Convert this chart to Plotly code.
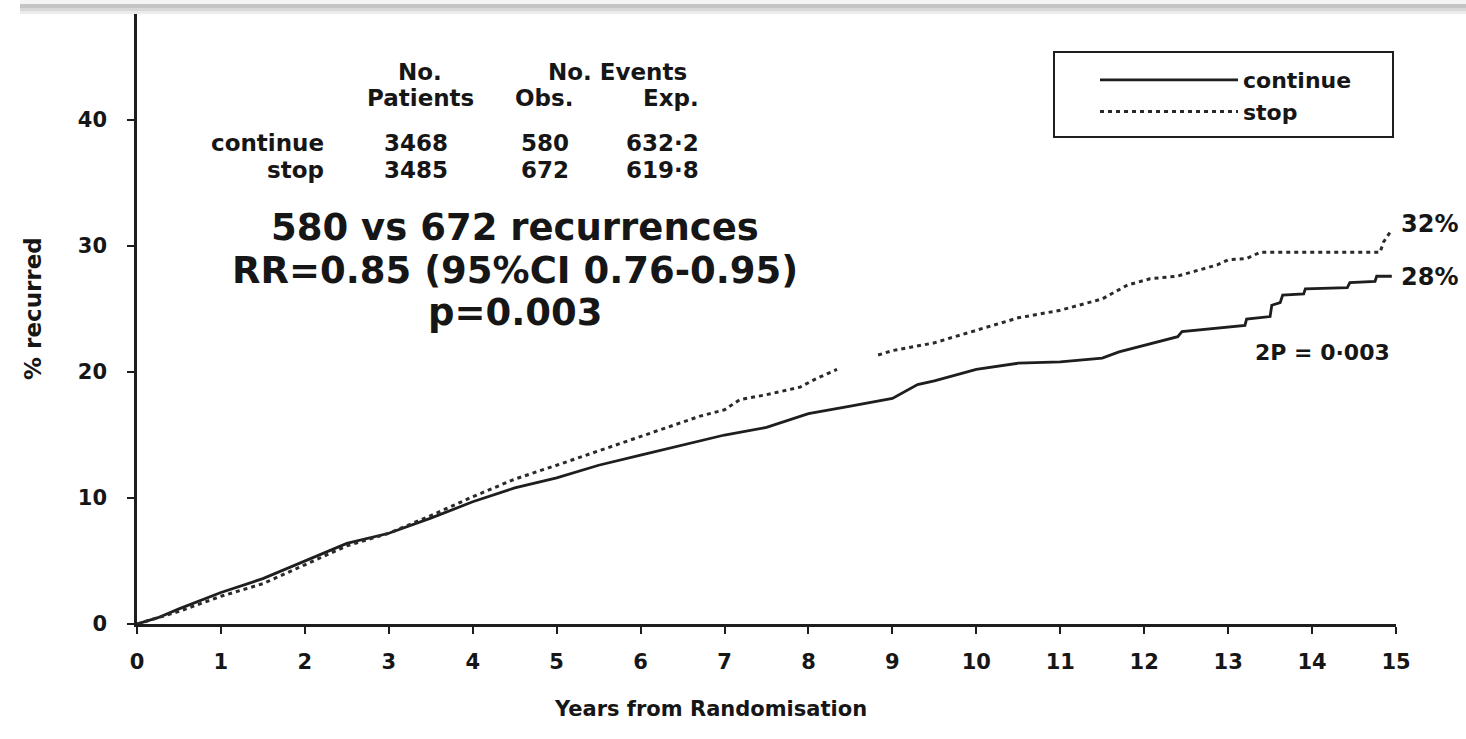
import plotly.graph_objects as go

# ---------------- data ----------------
years_continue = [0, 0.25, 0.5, 1.0, 1.5, 2.0, 2.5, 3.0, 3.5, 4.0, 4.5, 5.0, 5.5, 6.0, 6.5,
                  7.0, 7.5, 8.0, 8.5, 9.0, 9.3, 9.5, 10.0, 10.5, 11.0, 11.5, 11.7, 12.0,
                  12.4, 12.45, 12.9, 13.2, 13.22, 13.5, 13.52, 13.62, 13.65, 13.9, 13.92,
                  14.42, 14.45, 14.75, 14.77, 14.95]
pct_continue = [0, 0.5, 1.2, 2.5, 3.6, 5.0, 6.4, 7.2, 8.4, 9.7, 10.8, 11.6, 12.6, 13.4, 14.2,
                15.0, 15.6, 16.7, 17.3, 17.9, 19.0, 19.3, 20.2, 20.7, 20.8, 21.1, 21.6, 22.1,
                22.8, 23.2, 23.5, 23.7, 24.2, 24.4, 25.3, 25.5, 26.1, 26.2, 26.6,
                26.7, 27.1, 27.2, 27.6, 27.6]

years_stop = [0, 0.5, 1.0, 1.5, 2.0, 2.5, 3.0, 3.5, 4.0, 4.5, 5.0, 5.52, 6.0, 6.71, 7.0,
              7.18, 7.5, 7.9, 8.1, 8.34, None, 8.83, 9.0, 9.49, 10.0, 10.28, 10.5, 11.0,
              11.5, 11.8, 12.07, 12.39, 12.87, 13.0, 13.22, 13.38, 14.81, 14.85, 14.95]
pct_stop = [0, 1.0, 2.2, 3.2, 4.7, 6.2, 7.2, 8.6, 10.1, 11.5, 12.6, 13.8, 14.9, 16.5, 17.0,
            17.8, 18.2, 18.8, 19.5, 20.2, None, 21.35, 21.7, 22.3, 23.3, 23.9, 24.3, 24.9,
            25.8, 26.9, 27.4, 27.6, 28.5, 28.9, 29.0, 29.5, 29.5, 30.3, 31.3]

x_ticks = list(range(0, 16))
y_ticks = [0, 10, 20, 30, 40]

series_names = ["continue", "stop"]
table_patients = ["3468", "3485"]
table_obs = ["580", "672"]
table_exp = ["632·2", "619·8"]
summary_lines = ["580 vs 672 recurrences", "RR=0.85 (95%CI 0.76-0.95)", "p=0.003"]
end_labels = ["28%", "32%"]
p_label = "2P = 0·003"

# ---------------- layout geometry (pixels) ----------------
WIDTH, HEIGHT = 1466, 739
L, R, T, B = 137, 1396, 8, 624
PW, PH = R - L, B - T
Y_MAX = (B - T) / 12.6  # 12.6 px per percent


def px(x):
    return (x - L) / PW


def py(y):
    return (B - y) / PH


INK = "#161616"
FONT = "DejaVu Sans"

fig = go.Figure()
fig.add_trace(go.Scatter(x=years_continue, y=pct_continue, mode="lines", name=series_names[0],
                         line=dict(color="#1e1e1e", width=2.8), connectgaps=False))
fig.add_trace(go.Scatter(x=years_stop, y=pct_stop, mode="lines", name=series_names[1],
                         line=dict(color="#2a2a2a", width=3, dash="4px,4px"), connectgaps=False))

ann = []


def text(x, y, s, size=23, xanchor="center", yanchor="middle"):
    ann.append(dict(x=px(x), y=py(y), xref="paper", yref="paper", text=s, showarrow=False,
                    xanchor=xanchor, yanchor=yanchor,
                    font=dict(family=FONT, size=size, color=INK, weight="bold")))


# table header
text(420, 72, "No.")
text(420, 98, "Patients")
text(617, 72, "No. Events")
text(544, 98, "Obs.")
text(701, 98, "Exp.", xanchor="right")
rows_y = [143, 170]
for i in range(2):
    text(326, rows_y[i], series_names[i], xanchor="right")
    text(416, rows_y[i], table_patients[i])
    text(545, rows_y[i], table_obs[i])
    text(701, rows_y[i], table_exp[i], xanchor="right")

# summary block
for s, yy in zip(summary_lines, [228, 270, 312]):
    text(515, yy, s, size=37)

# end labels
text(1399, 277, end_labels[0], size=24, xanchor="left")
text(1399, 224, end_labels[1], size=24, xanchor="left")
text(1322, 352, p_label, size=22)

# axis titles
ann.append(dict(x=px(33), y=py(309), xref="paper", yref="paper", text="% recurred",
                showarrow=False, textangle=-90, xanchor="center", yanchor="middle",
                font=dict(family=FONT, size=23, color=INK, weight="bold")))
text(710, 709, "Years from Randomisation", size=21)

shapes = []
# faint top shadow band of the page edge
for (y0, y1, c) in [(0, 4, "#f4f4f4"), (4, 8, "#c4c4c4"), (8, 11, "#d8d8d8"), (11, 14, "#ececec")]:
    shapes.append(dict(type="rect", xref="paper", yref="paper", x0=px(20), x1=px(WIDTH),
                       y0=py(y1), y1=py(y0), fillcolor=c, line=dict(width=0), layer="above"))
# legend frame
shapes.append(dict(type="rect", xref="paper", yref="paper", x0=px(1054), x1=px(1393),
                   y0=py(137), y1=py(52), line=dict(color="#1e1e1e", width=2),
                   fillcolor="rgba(0,0,0,0)", layer="above"))

fig.update_layout(
    width=WIDTH, height=HEIGHT,
    margin=dict(l=L, r=WIDTH - R, t=T, b=HEIGHT - B, pad=0),
    paper_bgcolor="white", plot_bgcolor="white",
    font=dict(family=FONT, size=22, color=INK),
    showlegend=True,
    legend=dict(x=px(1095), y=py(59), xanchor="left", yanchor="top",
                borderwidth=0, bgcolor="rgba(255,255,255,0)",
                font=dict(family=FONT, size=22, color=INK, weight="bold"),
                itemwidth=138, tracegroupgap=0),
    annotations=ann,
    shapes=shapes,
)
fig.update_xaxes(range=[0, 15], tickvals=x_ticks, showline=True, linecolor="#1e1e1e",
                 linewidth=2.5, ticks="outside", ticklen=7, tickwidth=2, tickcolor="#1e1e1e",
                 showgrid=False, zeroline=False, ticklabelstandoff=10,
                 tickfont=dict(family=FONT, size=21, color=INK, weight="bold"))
fig.update_yaxes(range=[0, Y_MAX], tickvals=y_ticks, showline=True, linecolor="#1e1e1e",
                 linewidth=2.5, ticks="outside", ticklen=7, tickwidth=2, tickcolor="#1e1e1e",
                 showgrid=False, zeroline=False, ticklabelstandoff=16,
                 tickfont=dict(family=FONT, size=21, color=INK, weight="bold"))

fig.write_html("out.html", config={"displayModeBar": False},
               post_script="document.body.style.margin='0';document.body.style.overflow='hidden';")
